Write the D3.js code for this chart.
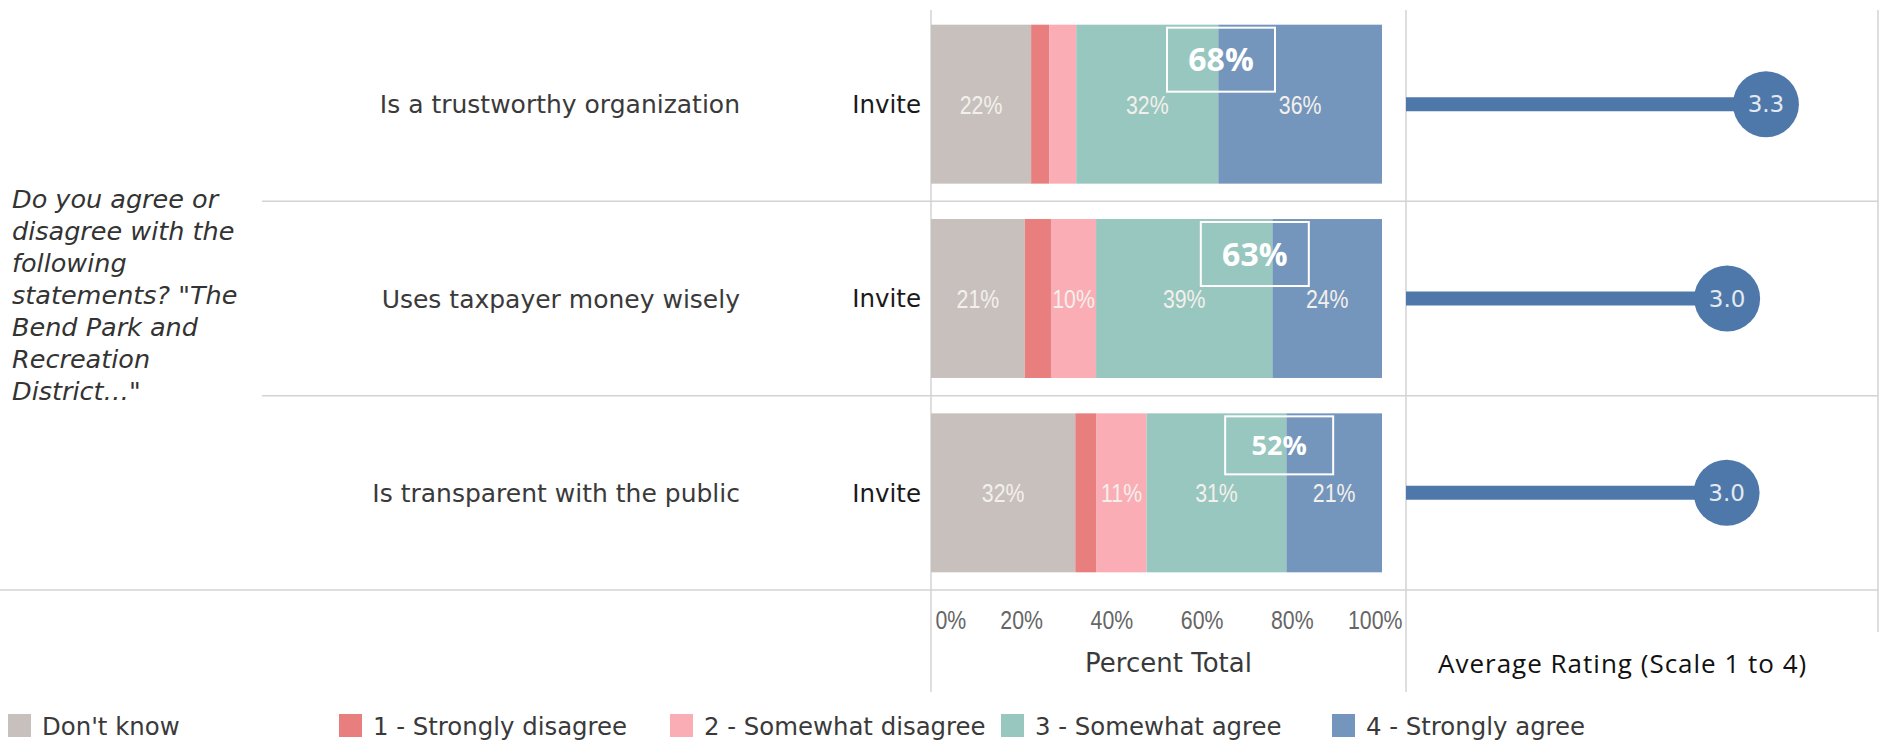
<!DOCTYPE html>
<html>
<head>
<meta charset="utf-8">
<script src="https://cdn.jsdelivr.net/npm/d3@7"></script>
<style>
  html, body { margin: 0; padding: 0; background: #fff; }
  svg { display: block; }
</style>
</head>
<body>
<div id="chart"></div>
<script>
// --- data ---
const statements = ["Is a trustworthy organization", "Uses taxpayer money wisely", "Is transparent with the public"];
const groupLabel = "Invite";
const categories = ["Don't know", "1 - Strongly disagree", "2 - Somewhat disagree", "3 - Somewhat agree", "4 - Strongly agree"];
const dontKnow = [22.2, 20.8, 32.0];
const stronglyDisagree = [4.0, 5.8, 4.7];
const somewhatDisagree = [6.0, 10.0, 11.1];
const somewhatAgree = [31.5, 39.1, 31.0];
const stronglyAgree = [36.3, 24.3, 21.2];
const agreeTotal = [68, 63, 52];
const avgRating = [3.34, 2.98, 2.975];
const percentTicks = [0, 20, 40, 60, 80, 100];
const question = ["Do you agree or", "disagree with the", "following", "statements? \"The", "Bend Park and", "Recreation", "District\u2026\""];

// --- layout / style ---
const W = 1881, H = 741;
const colors = ["#c8c0bd", "#e87e7e", "#fbadb5", "#98c7bf", "#7596bc"];
const lolliColor = "#4e78a9";
const boxCenterPct = [64.3, 71.8, 77.2];   // where the agree-total boxes sit
const boxFont = [32, 32, 27];
const boxH = [64, 64, 58];
const font = "'DejaVu Sans', Verdana, sans-serif";
const narrow = "'Liberation Sans', Arial, sans-serif";  // squeezed below to look like Arial Narrow
const squeeze = "scale(0.82,1)";

const series = [dontKnow, stronglyDisagree, somewhatDisagree, somewhatAgree, stronglyAgree];

const svg = d3.select("#chart").append("svg")
  .attr("width", W)
  .attr("height", H);

const x = d3.scaleLinear().domain([0, 100]).range([931, 1382]);
const rx = d3.scaleLinear().domain([0, 4.38]).range([1406, 1878]);
const y = d3.scaleBand().domain(statements).range([7, 590]).paddingInner(0.182).paddingOuter(0.091);
const step = y.step();
const rowTop = i => 7 + i * step;
const mid = d => y(d) + y.bandwidth() / 2;

// grid lines
const grid = svg.append("g").attr("stroke", "#d3d3d3").attr("stroke-width", 1.5);
[1, 2].forEach(i => {
  grid.append("line").attr("x1", 262).attr("x2", 1878).attr("y1", rowTop(i)).attr("y2", rowTop(i));
});
grid.append("line").attr("x1", 0).attr("x2", 1878).attr("y1", rowTop(3)).attr("y2", rowTop(3));
grid.append("line").attr("x1", x(0)).attr("x2", x(0)).attr("y1", 10).attr("y2", 692);
grid.append("line").attr("x1", rx(0)).attr("x2", rx(0)).attr("y1", 10).attr("y2", 692);
grid.append("line").attr("x1", 1878).attr("x2", 1878).attr("y1", 10).attr("y2", 632);

// question text
const q = svg.append("text")
  .attr("font-family", font)
  .attr("font-style", "italic")
  .attr("font-size", 25.5)
  .attr("fill", "#333");
question.forEach((line, i) => {
  q.append("tspan").attr("x", 12).attr("y", 296 + (i - 3) * 32 + 8).text(line);
});

// row labels
svg.selectAll(".stmt").data(statements).enter().append("text")
  .attr("class", "stmt")
  .attr("x", 740)
  .attr("y", mid)
  .attr("dy", "0.36em")
  .attr("text-anchor", "end")
  .attr("font-family", font)
  .attr("font-size", 25)
  .attr("fill", "#3a3a3a")
  .text(d => d);

svg.selectAll(".grp").data(statements).enter().append("text")
  .attr("class", "grp")
  .attr("x", 921)
  .attr("y", mid)
  .attr("dy", "0.36em")
  .attr("text-anchor", "end")
  .attr("font-family", font)
  .attr("font-size", 24.5)
  .attr("fill", "#1a1a1a")
  .text(groupLabel);

// stacked bars
const rows = statements.map((s, i) => {
  const o = { statement: s };
  categories.forEach((c, j) => { o[c] = series[j][i]; });
  return o;
});
const stacked = d3.stack().keys(categories)(rows);

const layer = svg.selectAll(".layer").data(stacked).enter().append("g")
  .attr("class", "layer")
  .attr("fill", (d, i) => colors[i]);

layer.selectAll("rect").data(d => d).enter().append("rect")
  .attr("x", d => x(d[0]))
  .attr("y", d => y(d.data.statement))
  .attr("width", d => x(d[1]) - x(d[0]))
  .attr("height", y.bandwidth());

layer.selectAll(".seg").data(d => d.filter(s => s[1] - s[0] >= 9.5)).enter().append("text")
  .attr("class", "seg")
  .attr("transform", d => `translate(${(x(d[0]) + x(d[1])) / 2},${mid(d.data.statement)}) ${squeeze}`)
  .attr("dy", "0.36em")
  .attr("text-anchor", "middle")
  .attr("font-family", narrow)
  .attr("font-size", 26)
  .attr("fill", "#f3f0ec")
  .text(d => Math.round(d[1] - d[0]) + "%");

// agree total boxes
statements.forEach((s, i) => {
  const cx = x(boxCenterPct[i]);
  const top = y(s) + 3;
  svg.append("rect")
    .attr("x", cx - 54).attr("y", top)
    .attr("width", 108).attr("height", boxH[i])
    .attr("fill", "none")
    .attr("stroke", "#fff")
    .attr("stroke-width", 2);
  svg.append("text")
    .attr("x", cx).attr("y", top + boxH[i] / 2)
    .attr("dy", "0.36em")
    .attr("text-anchor", "middle")
    .attr("font-family", "'Open Sans', sans-serif")
    .attr("font-weight", "bold")
    .attr("font-size", boxFont[i])
    .attr("fill", "#fff")
    .text(agreeTotal[i] + "%");
});

// percent axis
const axis = svg.append("g")
  .attr("transform", "translate(0,600)")
  .call(d3.axisBottom(x).tickValues(percentTicks).tickFormat(d => d + "%").tickSize(0));
axis.select(".domain").remove();
axis.selectAll("text")
  .attr("y", 20)
  .attr("dy", "0.36em")
  .attr("font-family", narrow)
  .attr("font-size", 26)
  .attr("fill", "#666")
  .attr("transform", squeeze);
axis.selectAll("text").filter(d => d === 0).attr("text-anchor", "start").attr("x", 4 / 0.82);
axis.selectAll("text").filter(d => d === 100).attr("text-anchor", "end").attr("x", 20 / 0.82);

svg.append("text")
  .attr("x", (x(0) + rx(0)) / 2).attr("y", 672)
  .attr("text-anchor", "middle")
  .attr("font-family", font)
  .attr("font-size", 26)
  .attr("fill", "#3a3a3a")
  .text("Percent Total");

// lollipops
svg.selectAll(".stick").data(statements).enter().append("line")
  .attr("class", "stick")
  .attr("x1", rx(0))
  .attr("x2", (d, i) => rx(avgRating[i]))
  .attr("y1", mid)
  .attr("y2", mid)
  .attr("stroke", lolliColor)
  .attr("stroke-width", 14);

svg.selectAll(".dot").data(statements).enter().append("circle")
  .attr("class", "dot")
  .attr("cx", (d, i) => rx(avgRating[i]))
  .attr("cy", mid)
  .attr("r", 33)
  .attr("fill", lolliColor);

svg.selectAll(".dotlab").data(statements).enter().append("text")
  .attr("class", "dotlab")
  .attr("x", (d, i) => rx(avgRating[i]))
  .attr("y", mid)
  .attr("dy", "0.36em")
  .attr("text-anchor", "middle")
  .attr("font-family", font)
  .attr("font-size", 23)
  .attr("fill", "#e3e9f1")
  .text((d, i) => avgRating[i].toFixed(1));

svg.append("text")
  .attr("x", 1438).attr("y", 673)
  .attr("font-family", "'Open Sans', sans-serif")
  .attr("font-size", 26)
  .attr("letter-spacing", 1)
  .attr("fill", "#111")
  .text("Average Rating (Scale 1 to 4)");

// legend
const legend = svg.selectAll(".leg").data(categories).enter().append("g")
  .attr("class", "leg")
  .attr("transform", (d, i) => `translate(${8 + i * 331},714)`);
legend.append("rect")
  .attr("width", 23).attr("height", 23)
  .attr("fill", (d, i) => colors[i]);
legend.append("text")
  .attr("x", 34).attr("y", 21)
  .attr("font-family", font)
  .attr("font-size", 24.4)
  .attr("fill", "#3a3a3a")
  .text(d => d);
</script>
</body>
</html>
